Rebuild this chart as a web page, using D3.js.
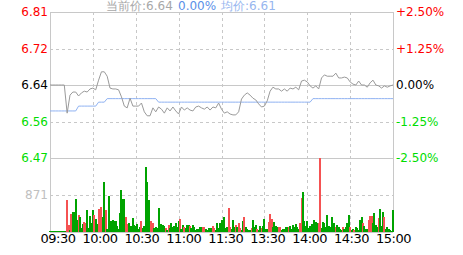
<!DOCTYPE html>
<html>
<head>
<meta charset="utf-8">
<script src="https://cdn.jsdelivr.net/npm/d3@7/dist/d3.min.js"></script>
<style>
    body { margin: 0; background: #fff; }
    svg { display: block; font-family: "DejaVu Sans", sans-serif; }
</style>
</head>
<body>
<svg id="chart" width="463" height="255"></svg>
<script>
(function() {

    //  Quote values
    var preClose = 6.64;
    var currentPrice = 6.64;
    var currentChange = '0.00%';
    var avgPrice = 6.61;

    //  Tick labels
    var pctTicks = [2.5, 1.25, 0, -1.25, -2.5];
    var volumeTicks = [871];
    var volumeMax = 1742;
    var timeLabels = ['09:30', '10:00', '10:30', '11:00', '11:30', '13:30', '14:00', '14:30', '15:00'];
    var gridMinutes = [30, 60, 90, 120, 150, 180, 210];

    //  Price, sampled every 2 minutes (121 points)
    var priceData = [
        6.640, 6.640, 6.640, 6.640, 6.640, 6.640, 6.576, 6.617, 6.624, 6.624,
        6.615, 6.622, 6.626, 6.624, 6.631, 6.633, 6.629, 6.651, 6.670, 6.670,
        6.660, 6.633, 6.631, 6.631, 6.629, 6.613, 6.592, 6.588, 6.610, 6.592,
        6.592, 6.592, 6.599, 6.579, 6.570, 6.570, 6.588, 6.579, 6.590, 6.585,
        6.576, 6.588, 6.581, 6.590, 6.581, 6.574, 6.590, 6.583, 6.588, 6.583,
        6.581, 6.590, 6.592, 6.588, 6.585, 6.590, 6.583, 6.590, 6.588, 6.599,
        6.585, 6.576, 6.579, 6.574, 6.572, 6.572, 6.579, 6.608, 6.617, 6.622,
        6.617, 6.610, 6.606, 6.597, 6.590, 6.592, 6.604, 6.626, 6.635, 6.631,
        6.631, 6.626, 6.631, 6.626, 6.633, 6.631, 6.635, 6.629, 6.649, 6.651,
        6.647, 6.638, 6.633, 6.638, 6.631, 6.656, 6.663, 6.660, 6.660, 6.660,
        6.667, 6.656, 6.656, 6.658, 6.656, 6.647, 6.642, 6.640, 6.649, 6.640,
        6.640, 6.635, 6.645, 6.651, 6.640, 6.638, 6.633, 6.638, 6.635, 6.638,
        6.640
    ];

    //  Average price, same 2 minute samples
    var avgData = [
        6.581, 6.581, 6.581, 6.581, 6.581, 6.581, 6.581, 6.581, 6.581, 6.581,
        6.592, 6.592, 6.592, 6.592, 6.592, 6.592, 6.592, 6.601, 6.601, 6.601,
        6.609, 6.609, 6.609, 6.609, 6.609, 6.609, 6.609, 6.609, 6.609, 6.609,
        6.609, 6.609, 6.609, 6.609, 6.609, 6.609, 6.609, 6.609, 6.601, 6.601,
        6.601, 6.601, 6.601, 6.601, 6.601, 6.601, 6.601, 6.601, 6.601, 6.601,
        6.601, 6.601, 6.601, 6.601, 6.601, 6.601, 6.601, 6.601, 6.601, 6.601,
        6.601, 6.601, 6.601, 6.601, 6.601, 6.601, 6.601, 6.601, 6.601, 6.601,
        6.601, 6.601, 6.601, 6.601, 6.601, 6.601, 6.601, 6.601, 6.601, 6.601,
        6.601, 6.601, 6.601, 6.601, 6.601, 6.601, 6.601, 6.601, 6.601, 6.601,
        6.601, 6.601, 6.609, 6.609, 6.609, 6.609, 6.609, 6.609, 6.609, 6.609,
        6.609, 6.609, 6.609, 6.609, 6.609, 6.609, 6.609, 6.609, 6.609, 6.609,
        6.609, 6.609, 6.609, 6.609, 6.609, 6.609, 6.609, 6.609, 6.609, 6.609,
        6.609
    ];

    //  Volume per minute (241 bars)
    var volumeData = [
        20, 20, 20, 20, 20, 20, 20, 20, 20, 20,
        20, 30, 753, 165, 40, 417, 480, 480, 777, 282,
        400, 353, 100, 188, 235, 219, 518, 100, 377, 212,
        518, 400, 306, 188, 541, 400, 588, 353, 1169, 518,
        80, 854, 165, 259, 282, 259, 259, 141, 60, 447,
        988, 777, 777, 361, 188, 212, 125, 148, 322, 165,
        148, 195, 60, 125, 259, 102, 148, 1530, 1185, 753,
        188, 259, 212, 102, 125, 87, 571, 50, 181, 165,
        148, 87, 50, 165, 87, 204, 125, 148, 204, 110,
        259, 306, 60, 165, 125, 87, 165, 165, 141, 87,
        165, 125, 40, 60, 60, 110, 110, 125, 110, 71,
        40, 87, 71, 87, 141, 87, 40, 204, 87, 204,
        282, 204, 361, 100, 125, 571, 125, 71, 282, 125,
        165, 125, 204, 87, 40, 259, 361, 125, 71, 50,
        40, 87, 282, 125, 165, 71, 40, 148, 87, 148,
        306, 60, 71, 243, 424, 306, 125, 228, 141, 110,
        125, 110, 50, 71, 60, 110, 110, 110, 141, 60,
        165, 110, 188, 110, 60, 204, 793, 934, 259, 148,
        259, 100, 148, 188, 148, 282, 243, 204, 204, 1742,
        100, 228, 220, 125, 400, 148, 125, 361, 100, 204,
        125, 165, 125, 71, 50, 110, 71, 110, 204, 400,
        125, 50, 71, 50, 125, 87, 50, 282, 345, 204,
        148, 71, 60, 282, 377, 377, 204, 439, 165, 125,
        337, 541, 148, 463, 361, 60, 110, 71, 40, 30,
        518
    ];

    //  1 = price up in that minute (red), 0 = down (green)
    var volumeUp = [
        0, 0, 0, 0, 0, 0, 0, 0, 0, 0,
        0, 0, 1, 1, 0, 1, 0, 0, 0, 0,
        1, 0, 0, 0, 1, 1, 0, 0, 0, 0,
        0, 1, 0, 0, 1, 1, 1, 0, 0, 1,
        0, 0, 0, 0, 0, 0, 0, 0, 0, 0,
        0, 0, 0, 1, 1, 0, 0, 0, 0, 0,
        0, 0, 0, 0, 1, 0, 0, 0, 0, 0,
        0, 1, 1, 0, 0, 0, 0, 0, 0, 0,
        0, 1, 0, 1, 0, 0, 0, 0, 0, 0,
        0, 1, 0, 0, 1, 0, 0, 0, 1, 0,
        0, 0, 0, 0, 0, 0, 0, 1, 1, 0,
        0, 0, 0, 0, 1, 1, 0, 0, 0, 0,
        0, 0, 0, 0, 0, 1, 1, 0, 0, 0,
        1, 0, 1, 1, 0, 0, 1, 0, 0, 0,
        0, 1, 0, 0, 0, 1, 0, 0, 1, 0,
        0, 0, 0, 1, 1, 1, 0, 0, 0, 0,
        1, 1, 0, 0, 0, 0, 0, 1, 0, 0,
        0, 0, 0, 0, 0, 1, 1, 0, 0, 0,
        0, 0, 0, 0, 0, 0, 0, 0, 1, 1,
        0, 0, 0, 0, 0, 0, 0, 0, 0, 0,
        1, 0, 0, 0, 0, 1, 0, 0, 0, 0,
        1, 0, 0, 1, 0, 0, 0, 0, 0, 1,
        0, 0, 0, 1, 1, 1, 0, 0, 0, 0,
        1, 0, 0, 0, 1, 0, 0, 0, 0, 0,
        0
    ];

    //  Layout
    var left = 50, right = 393, top = 12, mid = 158, bottom = 232;
    var gridColor = '#c8c8c8', red = '#ff0000', green = '#00dd00';

    var svg = d3.select('#chart');

    //  Scales
    var x = d3.scaleLinear().domain([0, 240]).range([left, right]);
    var pct = d3.scaleLinear().domain([-2.5, 2.5]).range([mid, top]);
    var price = d3.scaleLinear()
        .domain([preClose * (1 - 0.025), preClose * (1 + 0.025)])
        .range([mid, top]);
    var vol = d3.scaleLinear().domain([0, volumeMax]).range([bottom, mid]);
    var labelX = d3.scalePoint().domain(timeLabels).range([58, 393.5]);

    function tickColor(p) {
        return p > 0 ? red : (p < 0 ? green : '#000');
    }

    //  Horizontal grid lines
    var hLines = pctTicks.map(function(p) {
        return { y: pct(p), dashed: Math.abs(p) === 1.25 };
    });
    volumeTicks.forEach(function(v) { hLines.push({ y: vol(v), dashed: true }); });
    hLines.push({ y: bottom, dashed: false });

    svg.selectAll('line.h').data(hLines).enter().append('line')
        .attr('class', 'h')
        .attr('x1', left).attr('x2', right)
        .attr('y1', function(d) { return Math.round(d.y) + 0.5; })
        .attr('y2', function(d) { return Math.round(d.y) + 0.5; })
        .attr('stroke', gridColor)
        .attr('stroke-dasharray', function(d) { return d.dashed ? '3,3' : null; });

    //  Vertical grid lines
    svg.selectAll('line.v').data(gridMinutes).enter().append('line')
        .attr('class', 'v')
        .attr('x1', function(d) { return Math.round(x(d)) + 0.5; })
        .attr('x2', function(d) { return Math.round(x(d)) + 0.5; })
        .attr('y1', top).attr('y2', bottom)
        .attr('stroke', gridColor)
        .attr('stroke-dasharray', '3,3');

    [left, right].forEach(function(px) {
        svg.append('line')
            .attr('x1', px + 0.5).attr('x2', px + 0.5)
            .attr('y1', top).attr('y2', bottom)
            .attr('stroke', gridColor);
    });

    //  Volume bars
    svg.append('g').selectAll('rect').data(volumeData).enter().append('rect')
        .attr('x', function(d, i) { return x(i) - 1; })
        .attr('width', 2)
        .attr('y', function(d) { return vol(d); })
        .attr('height', function(d) { return bottom - vol(d); })
        .attr('fill', function(d, i) { return volumeUp[i] ? '#f55252' : '#00a300'; })
        .attr('shape-rendering', 'crispEdges');

    //  Price and average lines
    var priceLine = d3.line()
        .x(function(d, i) { return x(i * 2); })
        .y(function(d) { return price(d); });

    svg.append('path').datum(avgData)
        .attr('d', priceLine)
        .attr('fill', 'none')
        .attr('stroke', '#8fb2f2')
        .attr('stroke-width', 1);

    svg.append('path').datum(priceData)
        .attr('d', priceLine)
        .attr('fill', 'none')
        .attr('stroke', '#9a9a9a')
        .attr('stroke-width', 1);

    //  Left price labels
    svg.selectAll('text.price').data(pctTicks).enter().append('text')
        .attr('class', 'price')
        .attr('x', 48).attr('y', function(d) { return pct(d); })
        .attr('dy', '0.36em')
        .attr('text-anchor', 'end')
        .attr('font-size', 12)
        .attr('fill', tickColor)
        .text(function(d) { return (preClose * (1 + d / 100)).toFixed(2); });

    //  Right percent labels
    svg.selectAll('text.pct').data(pctTicks).enter().append('text')
        .attr('class', 'pct')
        .attr('x', 396).attr('y', function(d) { return pct(d); })
        .attr('dy', '0.36em')
        .attr('font-size', 12)
        .attr('fill', tickColor)
        .text(function(d) { return (d > 0 ? '+' : '') + d.toFixed(2) + '%'; });

    //  Volume label
    svg.selectAll('text.vol').data(volumeTicks).enter().append('text')
        .attr('class', 'vol')
        .attr('x', 48).attr('y', function(d) { return vol(d); })
        .attr('dy', '0.36em')
        .attr('text-anchor', 'end')
        .attr('font-size', 12)
        .attr('fill', '#c0c0c0')
        .text(function(d) { return d; });

    //  Time labels
    svg.selectAll('text.time').data(timeLabels).enter().append('text')
        .attr('class', 'time')
        .attr('x', function(d) { return labelX(d); })
        .attr('y', 243)
        .attr('text-anchor', 'middle')
        .attr('font-size', 13)
        .attr('letter-spacing', '-0.5px')
        .attr('fill', '#000')
        .text(function(d) { return d; });

    //  Header
    var header = [
        { x: 106, text: '当前价:' + currentPrice.toFixed(2), color: '#a8a8a8' },
        { x: 178, text: currentChange, color: '#5b8fe8' },
        { x: 221, text: '均价:' + avgPrice.toFixed(2), color: '#97b6ef' }
    ];
    svg.selectAll('text.head').data(header).enter().append('text')
        .attr('class', 'head')
        .attr('x', function(d) { return d.x; })
        .attr('y', 10)
        .attr('font-size', 12)
        .attr('fill', function(d) { return d.color; })
        .text(function(d) { return d.text; });

})();
</script>
</body>
</html>
